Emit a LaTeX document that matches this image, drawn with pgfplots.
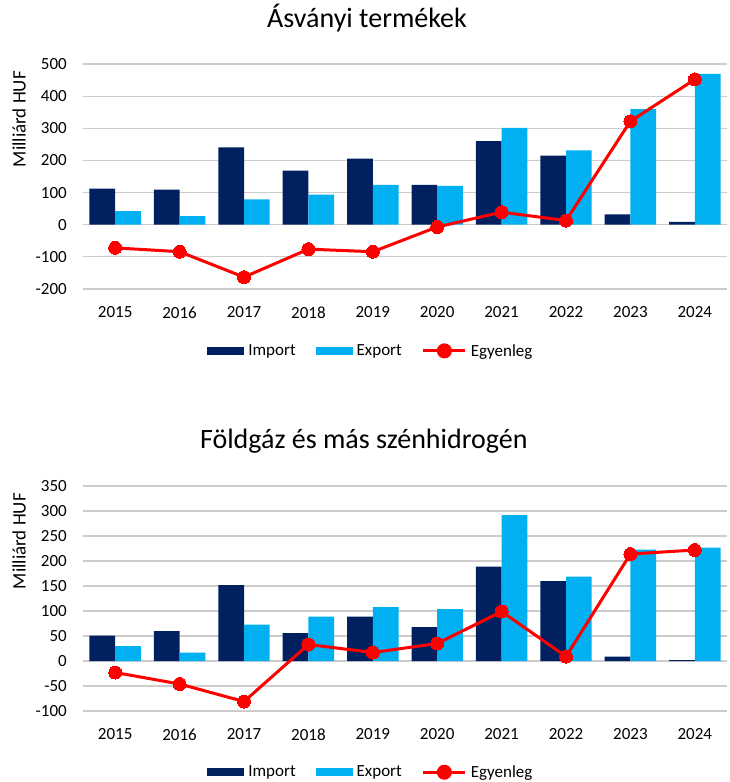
\documentclass[border=0pt]{standalone}
\usepackage{pgfplots}
\pgfplotsset{compat=1.18}
\usepackage{pgfplotstable}
\usepackage{fontspec}
\setmainfont{Carlito}
\definecolor{impc}{RGB}{0,32,96}
\definecolor{expc}{RGB}{0,176,240}
\definecolor{gridc}{RGB}{204,204,204}
\definecolor{redc}{RGB}{255,0,0}

\pgfplotstableread{
x imp exp bal
0 112 42 -72
1 109 27 -84
2 241 79 -163
3 168 94 -76
4 206 124 -84
5 124 121 -7
6 260 301 39
7 215 231 13
8 32 360 322
9 9 469 452
}\tabA

\pgfplotstableread{
x imp exp bal
0 51 30 -23
1 60 17 -46
2 152 73 -81
3 56 89 33
4 89 108 17
5 68 104 35
6 189 292 99
7 160 169 9
8 9 223 214
9 2 227 222
}\tabB

\pgfplotsset{mystyle/.style={
  scale only axis, width=644pt, height=225pt,
  xmin=-0.5, xmax=9.5, xtick={0,...,9},
  xticklabels={2015,2016,2017,2018,2019,2020,2021,2022,2023,2024},
  axis line style={draw=none},
  major tick length=0pt,
  ymajorgrids, grid style={gridc, line width=1.1pt},
  /pgf/number format/assume math mode=true,
  ticklabel style={font=\fontsize{17}{20}\selectfont},
  yticklabel style={xshift=-12.7pt},
  xticklabel style={yshift=-14pt},
  ylabel={Milliárd HUF},
  ylabel style={at={(rel axis cs:0,0.755)}, anchor=center, yshift=64pt, font=\fontsize{19}{22}\selectfont},
  title style={anchor=center, font=\fontsize{28}{32}\selectfont},
  legend columns=3,
  legend style={anchor=center, draw=none, fill=none, font=\fontsize{17}{20}\selectfont,
    /tikz/every even column/.append style={column sep=18pt},
    /tikz/every odd column/.append style={column sep=2pt}},
  legend cell align=left,
  barimp/.style={fill=impc, draw=none, ybar, bar width=25.7pt, bar shift=-12.85pt,
    legend image code/.code={\fill[impc] (0pt,-4pt) rectangle (37pt,4pt);}},
  barexp/.style={fill=expc, draw=none, ybar, bar width=25.7pt, bar shift=12.85pt,
    legend image code/.code={\fill[expc] (0pt,-4pt) rectangle (37pt,4pt);}},
  balline/.style={redc, line width=3pt, mark=*, mark size=6.5pt, mark options={fill=redc, draw=redc, line width=0pt},
    legend image code/.code={\draw[redc, line width=3pt] (0pt,0pt) -- (42pt,0pt); \fill[redc] (21pt,0pt) circle (6pt);}},
}}

\begin{document}
\begin{tikzpicture}
\path[use as bounding box] (0pt,0pt) rectangle (729pt,-782pt);
\begin{axis}[mystyle, at={(83pt,-289pt)}, anchor=south west,
  ymin=-200, ymax=500, ytick={-200,-100,...,500},
  title={Ásványi termékek}, title style={at={(0.441,1.178)}},
  legend style={at={(0.447,-0.275)}}]
\addplot[barimp] table[x=x,y=imp]{\tabA};
\addlegendentry{Import}
\addplot[barexp] table[x=x,y=exp]{\tabA};
\addlegendentry{Export}
\addplot[balline] table[x=x,y=bal]{\tabA};
\addlegendentry{Egyenleg}
\end{axis}
\begin{axis}[mystyle, at={(83pt,-711pt)}, anchor=south west,
  ymin=-100, ymax=350, ytick={-100,-50,...,350},
  title={Földgáz és más szénhidrogén}, title style={at={(0.436,1.172)}},
  legend style={at={(0.447,-0.272)}}]
\addplot[barimp] table[x=x,y=imp]{\tabB};
\addlegendentry{Import}
\addplot[barexp] table[x=x,y=exp]{\tabB};
\addlegendentry{Export}
\addplot[balline] table[x=x,y=bal]{\tabB};
\addlegendentry{Egyenleg}
\end{axis}
\end{tikzpicture}
\end{document}
